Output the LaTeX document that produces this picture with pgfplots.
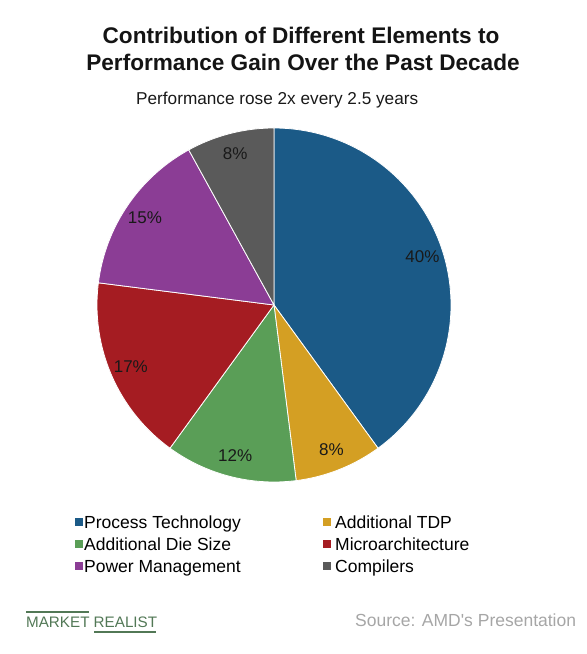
\documentclass[border=0pt]{standalone}
\usepackage{pgfplots}
\pgfplotsset{compat=1.18}
\usepackage{pgfplotstable}
\usepackage{fontspec}
\setmainfont{Liberation Sans}
\definecolor{c0}{HTML}{1B5A87}
\definecolor{c1}{HTML}{D49F23}
\definecolor{c2}{HTML}{5A9E57}
\definecolor{c3}{HTML}{A51C22}
\definecolor{c4}{HTML}{8B3D95}
\definecolor{c5}{HTML}{5A5A5A}
\definecolor{mrgreen}{HTML}{527856}
\definecolor{srcgray}{HTML}{A6A6A6}
\newcommand\lblfont{\fontsize{17bp}{20bp}\selectfont}
\newcommand\legfont{\fontsize{17.5bp}{20bp}\selectfont}
\pgfplotstableread[col sep=comma]{
name,value
Process Technology,40
Additional TDP,8
Additional Die Size,12
Microarchitecture,17
Power Management,15
Compilers,8
}\piedata
\begin{document}
\begin{tikzpicture}
\begin{axis}[x=1bp,y=1bp,xmin=0,xmax=587,ymin=0,ymax=654,
  hide axis,clip=false,anchor=origin,at={(0,0)}]
\path (axis cs:0,0) rectangle (axis cs:587,654);
\pgfmathsetmacro\cum{0}
\pgfplotsforeachungrouped \i in {0,...,5}{%
  \pgfplotstablegetelem{\i}{value}\of\piedata
  \let\v\pgfplotsretval
  \pgfmathsetmacro\aS{90-3.6*\cum}
  \pgfmathsetmacro\aE{90-3.6*(\cum+\v)}
  \pgfmathsetmacro\aM{(\aS+\aE)/2}
  \pgfmathsetmacro\lx{274+156*cos(\aM)}
  \pgfmathsetmacro\ly{349+156*sin(\aM)}
  \edef\tmp{%
    \noexpand\addplot[fill=c\i,draw=white,line width=0.8pt,domain=\aE:\aS,samples=120]
      ({274+177*cos(x)},{349+177*sin(x)}) -- (axis cs:274,349) -- cycle;
    \noexpand\node[font=\noexpand\lblfont,text=black!90,inner sep=0] at (axis cs:\lx,\ly) {\v\noexpand\%};
  }\tmp
  \pgfmathsetmacro\cum{\cum+\v}
}
% titles
\node[anchor=center,inner sep=0,font=\fontsize{22.6bp}{26bp}\selectfont\bfseries,text=black!92] at (axis cs:301,619) {Contribution of Different Elements to};
\node[anchor=center,inner sep=0,font=\fontsize{22.6bp}{26bp}\selectfont\bfseries,text=black!92] at (axis cs:303,592) {Performance Gain Over the Past Decade};
\node[anchor=west,inner sep=0,font=\fontsize{17.2bp}{20bp}\selectfont,text=black!90] at (axis cs:136,554) {Performance rose 2x every 2.5 years};
% legend
\fill[c0] (axis cs:75,128) rectangle (axis cs:83,136);
\node[anchor=base west,inner sep=0,font=\legfont] at (axis cs:84,125.7) {Process Technology};
\fill[c2] (axis cs:75,106) rectangle (axis cs:83,114);
\node[anchor=base west,inner sep=0,font=\legfont] at (axis cs:84,103.7) {Additional Die Size};
\fill[c4] (axis cs:75,84) rectangle (axis cs:83,92);
\node[anchor=base west,inner sep=0,font=\legfont] at (axis cs:84,81.7) {Power Management};
\fill[c1] (axis cs:323,128) rectangle (axis cs:331,136);
\node[anchor=base west,inner sep=0,font=\legfont] at (axis cs:335,125.7) {Additional TDP};
\fill[c3] (axis cs:323,106) rectangle (axis cs:331,114);
\node[anchor=base west,inner sep=0,font=\legfont] at (axis cs:335,103.7) {Microarchitecture};
\fill[c5] (axis cs:323,84) rectangle (axis cs:331,92);
\node[anchor=base west,inner sep=0,font=\legfont] at (axis cs:335,81.7) {Compilers};
% footer
\node[anchor=west,inner sep=0,font=\fontsize{15.2bp}{17bp}\selectfont,text=mrgreen] at (axis cs:26,32) {MARKET REALIST};
\draw[mrgreen,line width=1.3bp] (axis cs:26,42) -- (axis cs:89,42);
\draw[mrgreen,line width=1.3bp] (axis cs:94,22) -- (axis cs:156,22);
\node[anchor=west,inner sep=0,font=\fontsize{17.5bp}{20bp}\selectfont,text=srcgray] at (axis cs:355,34) {Source: AMD\textquotesingle s Presentation};
\end{axis}
\end{tikzpicture}
\end{document}
